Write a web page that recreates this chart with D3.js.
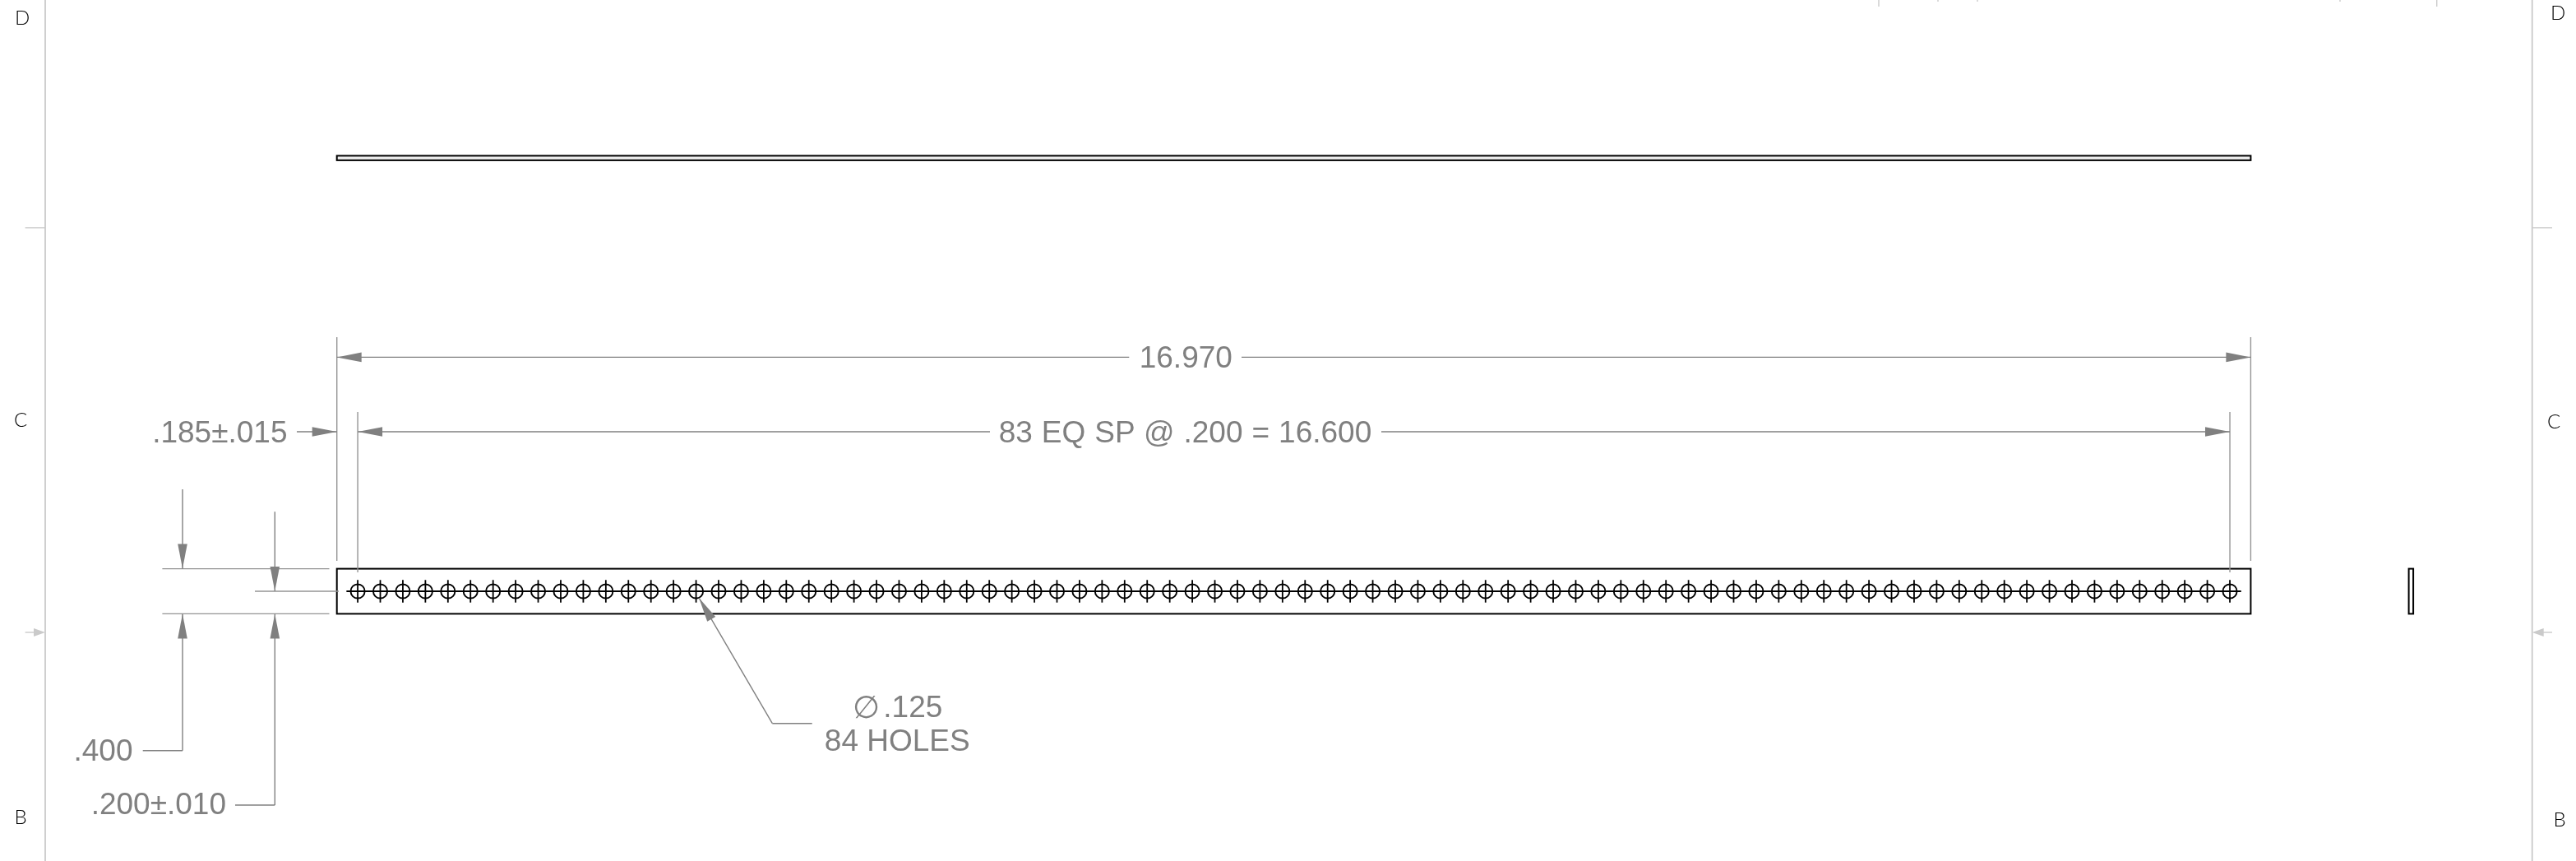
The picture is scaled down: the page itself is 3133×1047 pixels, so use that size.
<!DOCTYPE html>
<html>
<head>
<meta charset="utf-8">
<title>Plate drawing</title>
<script src="https://cdn.jsdelivr.net/npm/d3@7"></script>
<style>
  html, body { margin: 0; padding: 0; background: #fff; overflow: hidden; }
  /* the sheet is monochrome, this also drops the coloured text fringes */
  svg { display: block; filter: grayscale(1); }
  .dim { font-family: "Liberation Sans", Arial, sans-serif; font-size: 37px; fill: #808080; }
  .zone { font-family: "Lato", sans-serif; font-weight: 300; font-size: 24px; fill: #000; }
</style>
</head>
<body>
<div id="chart"></div>
<script>
// all part sizes are inches, read from the dimensions on the sheet
const plateLength = 16.97;
const plateWidth = 0.4;
const plateThickness = 0.04;
const holeDiameter = 0.125;
const centerMark = 0.1; // how far the centre lines stick out from a hole centre
const holeOffsets = [
  0.185, 0.385, 0.585, 0.785, 0.985, 1.185, 1.385, 1.585, 1.785, 1.985, 2.185, 2.385,
  2.585, 2.785, 2.985, 3.185, 3.385, 3.585, 3.785, 3.985, 4.185, 4.385, 4.585, 4.785,
  4.985, 5.185, 5.385, 5.585, 5.785, 5.985, 6.185, 6.385, 6.585, 6.785, 6.985, 7.185,
  7.385, 7.585, 7.785, 7.985, 8.185, 8.385, 8.585, 8.785, 8.985, 9.185, 9.385, 9.585,
  9.785, 9.985, 10.185, 10.385, 10.585, 10.785, 10.985, 11.185, 11.385, 11.585, 11.785, 11.985,
  12.185, 12.385, 12.585, 12.785, 12.985, 13.185, 13.385, 13.585, 13.785, 13.985, 14.185, 14.385,
  14.585, 14.785, 14.985, 15.185, 15.385, 15.585, 15.785, 15.985, 16.185, 16.385, 16.585, 16.785,
];
const zoneLetters = ["D", "C", "B"];
const overallLabel = "16.970";
const pitchLabel = "83 EQ SP @ .200 = 16.600";
const edgeLabel = ".185±.015";
const widthLabel = ".400";
const centerLabel = ".200±.010";
const holeLabel = ".125";
const holeSymbol = "∅";
const holeCountLabel = "84 HOLES";

const width = 3133;
const height = 1047;
const inkColor = "#000";
const dimColor = "#808080";
const extColor = "#949494";
const borderColor = "#cacaca";

const svg = d3.select("#chart").append("svg").attr("width", width).attr("height", height);
svg.append("rect").attr("width", width).attr("height", height).attr("fill", "#fff");

// front view scales, x runs along the plate and y across it
const x = d3.scaleLinear().domain([0, plateLength]).range([409.7, 2737.4]);
const y = d3.scaleLinear().domain([0, plateWidth]).range([746.4, 691.6]);
const xLeft = x(0);
const xRight = x(plateLength);
const xFirst = x(holeOffsets[0]);
const xLast = x(holeOffsets[holeOffsets.length - 1]);
const yTop = y(plateWidth);
const yBottom = y(0);
const yMid = y(plateWidth / 2);
const pxPerInch = x(1) - x(0);

// helpers for the sheet lines
const line = (g, x1, y1, x2, y2, color, w) =>
  g.append("line")
    .attr("x1", x1).attr("y1", y1)
    .attr("x2", x2).attr("y2", y2)
    .attr("stroke", color)
    .attr("stroke-width", w);

const arrow = (g, tipX, tipY, dx, dy, color, len = 30, half = 5.8) => {
  const baseX = tipX - dx * len;
  const baseY = tipY - dy * len;
  const pts = [
    [tipX, tipY],
    [baseX - dy * half, baseY + dx * half],
    [baseX + dy * half, baseY - dx * half],
  ];
  g.append("path").attr("d", d3.line()(pts) + "Z").attr("fill", color);
};

const label = (g, text, px, py, anchor = "start") =>
  g.append("text").attr("class", "dim").attr("x", px).attr("y", py)
    .attr("text-anchor", anchor).text(text);

// sheet border and zone marks
const border = svg.append("g");
[55, 3079.7].forEach((bx) => line(border, bx, 0, bx, height, borderColor, 1.8));
[[30.6, 55], [3079.7, 3104]].forEach(([a, b]) => line(border, a, 276.9, b, 276.9, borderColor, 1.4));
[[2285, 8], [2357, 2], [2405, 2], [2846, 2], [2963.7, 8]].forEach(([tx, len]) =>
  line(border, tx, 0, tx, len, borderColor, 1.4));
line(border, 30.6, 769, 45, 769, borderColor, 1.4);
arrow(border, 55, 769, 1, 0, borderColor, 14, 5);
line(border, 3090, 769, 3104, 769, borderColor, 1.4);
arrow(border, 3079.7, 769, -1, 0, borderColor, 14, 5);

const zones = svg.append("g");
const zoneLeftY = [30, 519, 1002];
const zoneRightY = [24, 520.5, 1005];
const zoneLeftX = [18, 17, 17.5];
const zoneRightX = [3102, 3098, 3105.5];
zoneLetters.forEach((letter, i) => {
  zones.append("text").attr("class", "zone").attr("x", zoneLeftX[i]).attr("y", zoneLeftY[i]).text(letter);
  zones.append("text").attr("class", "zone").attr("x", zoneRightX[i]).attr("y", zoneRightY[i]).text(letter);
});

// top view, the same plate seen edge on
svg.append("rect")
  .attr("x", xLeft).attr("y", 189.4)
  .attr("width", xRight - xLeft)
  .attr("height", plateThickness * pxPerInch)
  .attr("fill", "#ececec").attr("stroke", inkColor).attr("stroke-width", 2);

// side view
svg.append("rect")
  .attr("x", 2929.6).attr("y", yTop)
  .attr("width", plateThickness * pxPerInch)
  .attr("height", yBottom - yTop)
  .attr("fill", "#fff").attr("stroke", inkColor).attr("stroke-width", 2);

// front view
const front = svg.append("g");
front.append("rect")
  .attr("x", xLeft).attr("y", yTop)
  .attr("width", xRight - xLeft).attr("height", yBottom - yTop)
  .attr("fill", "#fff").attr("stroke", inkColor).attr("stroke-width", 2);

line(front, xFirst - centerMark * pxPerInch, yMid, xLast + centerMark * pxPerInch, yMid, inkColor, 2.2);

const holes = front.selectAll("g.hole").data(holeOffsets).join("g").attr("class", "hole");
holes.append("circle")
  .attr("cx", (d) => x(d)).attr("cy", yMid)
  .attr("r", (holeDiameter / 2) * pxPerInch)
  .attr("fill", "none").attr("stroke", inkColor).attr("stroke-width", 1.9);
holes.append("line")
  .attr("x1", (d) => x(d)).attr("x2", (d) => x(d))
  .attr("y1", yMid - centerMark * pxPerInch).attr("y2", yMid + centerMark * pxPerInch)
  .attr("stroke", inkColor).attr("stroke-width", 1.8);

// dimensions
const dims = svg.append("g");

// extension lines
line(dims, xLeft, 410, xLeft, 682, extColor, 1.4);
line(dims, xRight, 410, xRight, 682, extColor, 1.4);
line(dims, xFirst, 501, xFirst, 696, extColor, 1.4);
line(dims, xLast, 501, xLast, 696, extColor, 1.4);
line(dims, 197.4, yTop, 400.5, yTop, extColor, 1.4);
line(dims, 197.4, yBottom, 400.5, yBottom, extColor, 1.4);
line(dims, 310, yMid, 412, yMid, extColor, 1.4);

// 16.970 overall
const yOverall = 434.4;
line(dims, xLeft, yOverall, 1373.3, yOverall, dimColor, 1.4);
line(dims, 1510, yOverall, xRight, yOverall, dimColor, 1.4);
arrow(dims, xLeft, yOverall, -1, 0, dimColor);
arrow(dims, xRight, yOverall, 1, 0, dimColor);
label(dims, overallLabel, 1442.3, 446.7, "middle");

// hole pitch
const yPitch = 525;
line(dims, xFirst, yPitch, 1204, yPitch, dimColor, 1.4);
line(dims, 1680, yPitch, xLast, yPitch, dimColor, 1.4);
arrow(dims, xFirst, yPitch, -1, 0, dimColor);
arrow(dims, xLast, yPitch, 1, 0, dimColor);
label(dims, pitchLabel, 1441.5, 537.7, "middle").style("word-spacing", "0.7px");

// edge to first hole
line(dims, 361, yPitch, xLeft, yPitch, dimColor, 1.4);
arrow(dims, xLeft, yPitch, 1, 0, dimColor);
label(dims, edgeLabel, 349.5, 538, "end");

// plate width
const xWidthDim = 222;
line(dims, xWidthDim, 595, xWidthDim, yTop, dimColor, 1.4);
arrow(dims, xWidthDim, yTop, 0, 1, dimColor);
arrow(dims, xWidthDim, yBottom, 0, -1, dimColor);
line(dims, xWidthDim, yBottom, xWidthDim, 912.7, dimColor, 1.4);
line(dims, 173.7, 912.7, xWidthDim, 912.7, dimColor, 1.4);
label(dims, widthLabel, 161.5, 925, "end");

// hole row from the edge
const xCenterDim = 334.3;
line(dims, xCenterDim, 622.3, xCenterDim, yMid, dimColor, 1.4);
arrow(dims, xCenterDim, yMid, 0, 1, dimColor);
arrow(dims, xCenterDim, yBottom, 0, -1, dimColor);
line(dims, xCenterDim, yBottom, xCenterDim, 979, dimColor, 1.4);
line(dims, 286, 979, xCenterDim, 979, dimColor, 1.4);
label(dims, centerLabel, 275, 990, "end");

// hole callout, leader lands on the 16th hole
const calloutHole = x(holeOffsets[15]);
const elbow = [939.3, 879.7];
const tip = [calloutHole + 3.5, 727];
const leaderLen = Math.hypot(tip[0] - elbow[0], tip[1] - elbow[1]);
line(dims, tip[0], tip[1], elbow[0], elbow[1], dimColor, 1.4);
line(dims, elbow[0], elbow[1], 987.7, elbow[1], dimColor, 1.4);
arrow(dims, tip[0], tip[1], (tip[0] - elbow[0]) / leaderLen, (tip[1] - elbow[1]) / leaderLen, dimColor);

dims.append("text")
  .attr("x", 1053.3).attr("y", 873)
  .attr("text-anchor", "middle")
  .attr("font-family", "DejaVu Sans")
  .attr("font-weight", 200)
  .attr("font-size", 38)
  .attr("fill", dimColor)
  .text(holeSymbol);
label(dims, holeLabel, 1074.3, 872.3);
label(dims, holeCountLabel, 1091.3, 912.7, "middle");
</script>
</body>
</html>
